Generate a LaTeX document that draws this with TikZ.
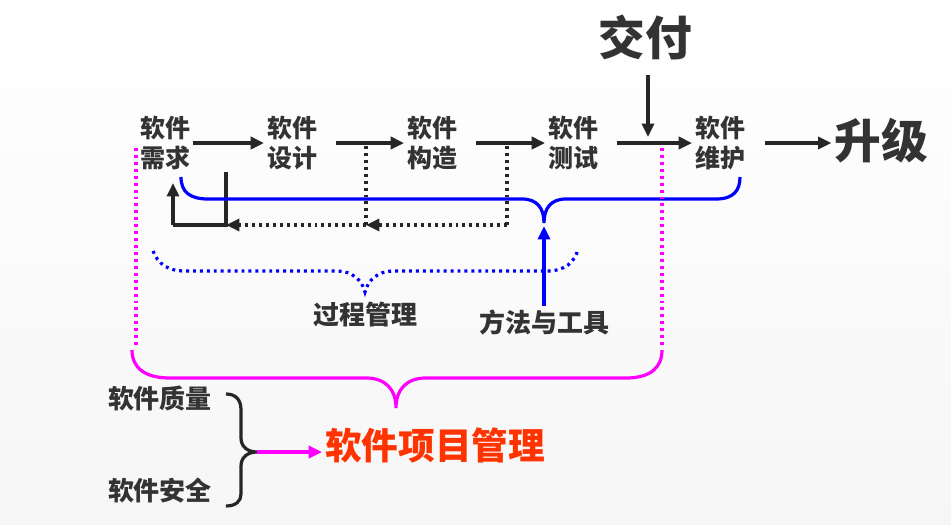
\documentclass[tikz,border=0pt]{standalone}
\usepackage{fontspec}
\setmainfont{Noto Sans CJK SC}
\usetikzlibrary{arrows.meta}

\definecolor{ink}{HTML}{333333}
\definecolor{linec}{HTML}{262626}
\definecolor{bluec}{HTML}{0000FF}
\definecolor{magc}{HTML}{FF00FF}
\definecolor{redc}{HTML}{FF3300}

\begin{document}
\begin{tikzpicture}[
    x=0.75pt, y=-0.75pt,
    stage/.style={text=ink, align=center, inner sep=2pt,
                  font=\bfseries\fontsize{18.75}{22.5}\selectfont},
    bigword/.style={text=ink, inner sep=2pt,
                    font=\bfseries\fontsize{35}{40}\selectfont},
    note/.style={text=ink, inner sep=2pt,
                 font=\bfseries\fontsize{19.5}{23}\selectfont},
    tip/.style={-{Triangle[length=10pt,width=9pt]}},
    arr/.style={tip, line width=2.4pt, color=linec},
    fb/.style={line width=2.4pt, color=linec},
    fbdot/.style={line width=2.4pt, color=linec, dash pattern=on 2.2pt off 3pt},
    brc/.style={line width=2.4pt},
  ]
  %% Background
  \fill[top color=white, bottom color=gray!7] (0,0) rectangle (951,525);
  \useasboundingbox (0,0) rectangle (951,525);

  %% Stages (left to right)
  \node[stage] (req)    at (165,143) {软件\\需求};
  \node[stage] (design) at (292,143) {软件\\设计};
  \node[stage] (build)  at (432,143) {软件\\构造};
  \node[stage] (test)   at (573,143) {软件\\测试};
  \node[stage] (maint)  at (720,143) {软件\\维护};
  \node[bigword] (deliver) at (645,37)  {交付};
  \node[bigword] (upgrade) at (881,141) {升级};

  %% Main flow
  \draw[arr] (req)    -- (design);
  \draw[arr, shorten <=12pt] (design) -- (build);
  \draw[arr, shorten <=12pt] (build)  -- (test);
  \draw[arr, shorten <=12pt] (test)   -- (maint);
  \draw[arr, shorten <=13pt] (maint.east) -- (maint.east -| upgrade.west);
  \coordinate (dtop) at (648,75);
  \coordinate (dhit) at (648,137);
  \draw[arr] (dtop) -- (dhit);

  %% Feedback loops
  \coordinate (fb1) at (226,172);
  \coordinate (fbc) at (226,225);
  \coordinate (fbl) at (173,225);
  \coordinate (fbup) at (173,183);
  \draw[fb] (fb1) -- (fbc) -- (fbl);
  \draw[arr] (fbl) -- (fbup);
  \coordinate (fd1) at (366,146);
  \coordinate (fd1b) at (366,225);
  \coordinate (fd2) at (507,146);
  \coordinate (fd2b) at (507,225);
  \draw[fbdot] (fd1) -- (fd1b);
  \draw[fbdot] (fd2) -- (fd2b);
  \draw[fbdot, tip] (fd1b) -- (fbc);
  \draw[fbdot, tip] (fd2b) -- (fd1b);

  %% Tools brace and arrow
  \draw[brc, bluec] (181,177) .. controls (181,192) and (190,199) .. (208,199)
    -- (522,199) .. controls (537,199) and (544,208) .. (544,223)
    .. controls (544,208) and (551,199) .. (566,199)
    -- (716,199) .. controls (734,199) and (740,190) .. (740,177);
  \node[note] (tools) at (544,322) {方法与工具};
  \coordinate (tooltip) at (544,226);
  \draw[tip, line width=2.4pt, bluec] (tools.north) -- (tooltip);

  %% Process management brace
  \draw[line width=2.4pt, bluec, dash pattern=on 2.2pt off 3pt]
    (153,251) .. controls (158,264) and (168,271) .. (185,271)
    -- (337,271) .. controls (352,271) and (362,280) .. (365,292)
    .. controls (368,280) and (378,271) .. (393,271)
    -- (547,271) .. controls (565,271) and (575,262) .. (578,249);
  \node[note] (procmgmt) at (365,315) {过程管理};

  %% Project management brace
  \draw[brc, magc, dash pattern=on 2.2pt off 3pt] (136,148) -- (136,346);
  \draw[brc, magc, dash pattern=on 2.2pt off 3pt] (662,148) -- (662,346);
  \draw[brc, magc] (132,350) .. controls (132,368) and (145,378) .. (170,378)
    -- (366,378) .. controls (386,378) and (396,390) .. (396,408)
    .. controls (396,390) and (406,378) .. (426,378)
    -- (626,378) .. controls (650,378) and (662,368) .. (662,350);

  %% Quality and safety
  \node[note] (quality) at (160,398) {软件质量};
  \node[note] (safety)  at (160,491) {软件安全};
  \draw[brc, linec] (226,394) .. controls (236,394) and (241,400) .. (241,410)
    -- (241,438) .. controls (241,447) and (248,452) .. (257,452)
    .. controls (248,452) and (241,457) .. (241,466)
    -- (241,494) .. controls (241,501) and (236,506) .. (226,506);
  \node[text=redc, inner sep=2pt, font=\bfseries\fontsize{27.5}{32}\selectfont]
    (projmgmt) at (435,445) {软件项目管理};
  \coordinate (qsout) at (257,452);
  \draw[tip, line width=2.4pt, magc] (qsout) -- (qsout -| projmgmt.west);
\end{tikzpicture}
\end{document}
